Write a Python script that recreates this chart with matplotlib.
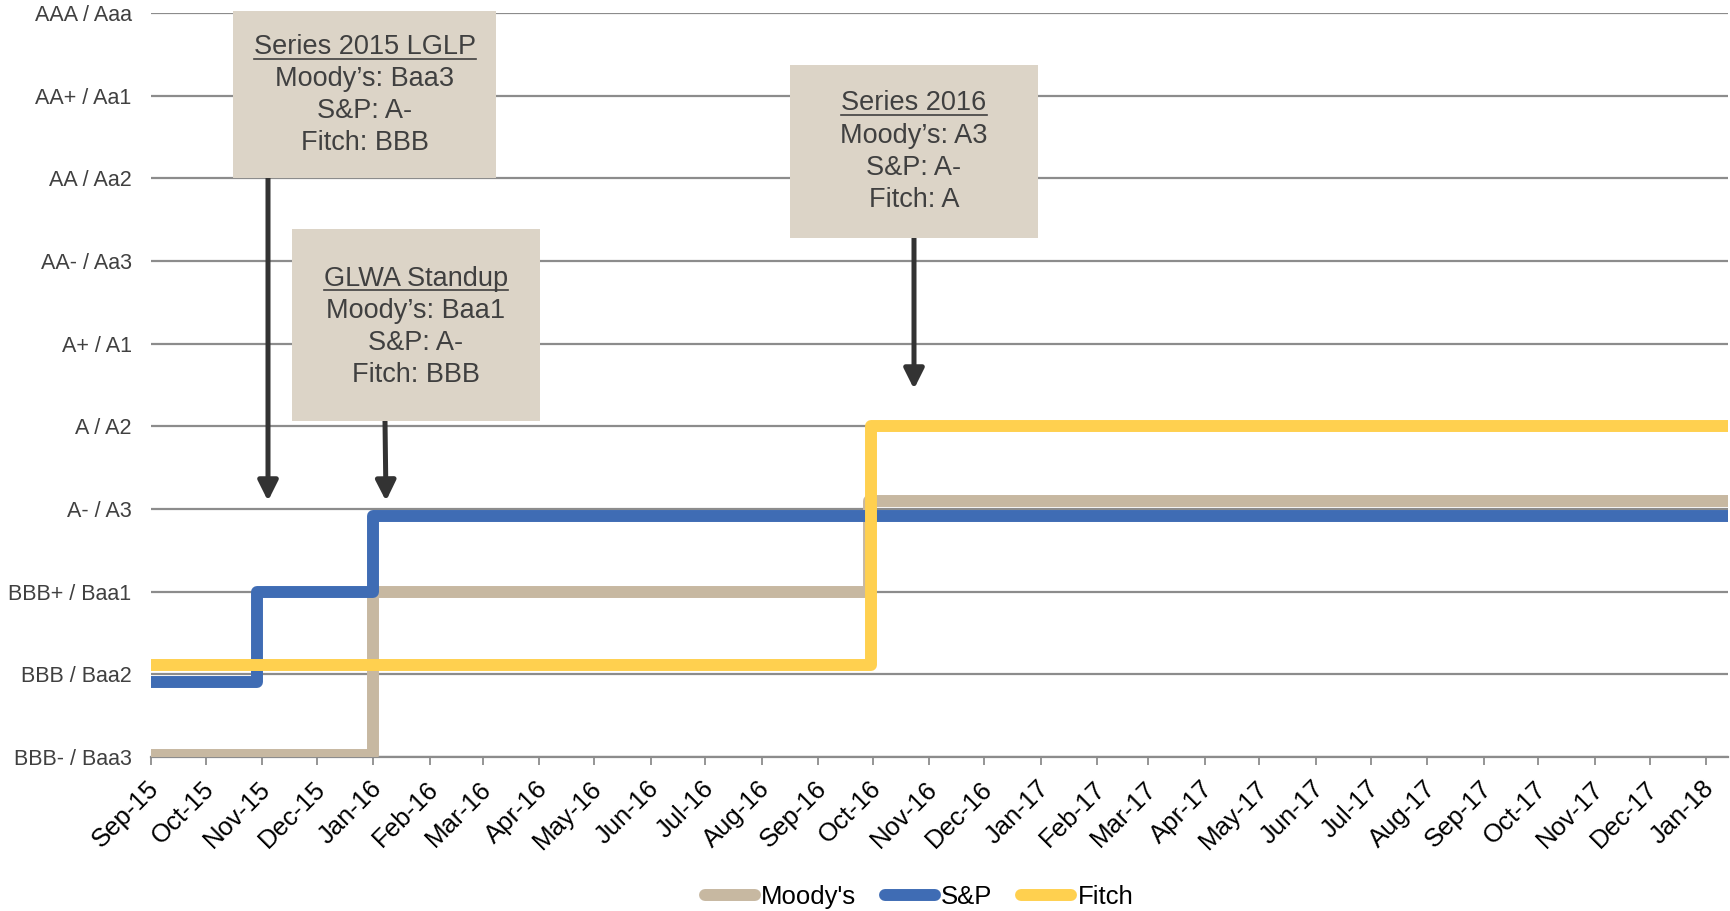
import matplotlib.pyplot as plt
import matplotlib.dates as mdates
import matplotlib.transforms as mtransforms
from matplotlib.patches import Rectangle
from matplotlib.lines import Line2D
import pandas as pd

plt.rcParams['font.family'] = ['Liberation Sans', 'DejaVu Sans']

# niveles de calificacion (eje y), 0 = BBB- / Baa3
niveles = ['BBB- / Baa3', 'BBB / Baa2', 'BBB+ / Baa1', 'A- / A3', 'A / A2',
           'A+ / A1', 'AA- / Aa3', 'AA / Aa2', 'AA+ / Aa1', 'AAA / Aaa']

# fechas de cambio y nivel de cada agencia
fin = '2018-01-13'
moodys_fechas = ['2015-09-01', '2016-01-01', '2016-09-29', fin]
moodys_valores = [0.02, 2.0, 3.1, 3.1]
sp_fechas = ['2015-09-01', '2015-10-29', '2016-01-01', fin]
sp_valores = [0.91, 2.0, 2.92, 2.92]
fitch_fechas = ['2015-09-01', '2016-09-30', fin]
fitch_valores = [1.11, 4.0, 4.0]

series = ["Moody's", 'S&P', 'Fitch']
colores = ['#c7b8a1', '#3f6cb4', '#ffd04f']

# cuadros de texto
caja1 = ['Series 2015 LGLP', 'Moody\u2019s: Baa3', 'S&P: A-', 'Fitch: BBB']
caja2 = ['GLWA Standup', 'Moody\u2019s: Baa1', 'S&P: A-', 'Fitch: BBB']
caja3 = ['Series 2016', 'Moody\u2019s: A3', 'S&P: A-', 'Fitch: A']

W, H = 1730, 911
fig = plt.figure(figsize=(W / 100, H / 100), dpi=100)
ax = fig.add_axes([151 / W, 1 - 757 / H, (1728 - 151) / W, (757 - 13) / H])


def fx(x):
    return x / W


def fy(y):
    return 1 - y / H


datos = [(moodys_fechas, moodys_valores), (sp_fechas, sp_valores),
         (fitch_fechas, fitch_valores)]
for (f, v), nombre, c in zip(datos, series, colores):
    ax.plot(pd.to_datetime(f), v, drawstyle='steps-post', color=c, lw=8.6,
            solid_joinstyle='round', solid_capstyle='round', label=nombre, zorder=3)

ax.set_ylim(0, 9)
ax.set_yticks(range(len(niveles)))
ax.set_yticklabels(niveles)
ax.set_xlim(pd.Timestamp('2015-09-01'), pd.Timestamp(fin))
ax.xaxis.set_major_locator(mdates.MonthLocator())
ax.xaxis.set_major_formatter(mdates.DateFormatter('%b-%y'))

ax.yaxis.grid(True, color='#8c8c8c', lw=1.6)
ax.set_axisbelow(True)
for s in ['top', 'right', 'left']:
    ax.spines[s].set_visible(False)
ax.spines['bottom'].set_color('#8c8c8c')
ax.spines['bottom'].set_linewidth(1.6)
ax.tick_params(axis='y', length=0, pad=14, labelsize=15.5, labelcolor='#404040')
ax.tick_params(axis='x', length=6, width=1.3, color='#8c8c8c', pad=8,
               labelsize=18.5, labelcolor='black')
desp = mtransforms.ScaledTranslation(-4 / 100, 0, fig.dpi_scale_trans)
for lab in ax.get_xticklabels():
    lab.set_rotation(45)
    lab.set_ha('right')
    lab.set_rotation_mode('anchor')
    lab.set_transform(lab.get_transform() + desp)

# cuadros y flechas
cajas = [(caja1, 233, 11, 496, 178, [47, 79, 111, 143]),
         (caja2, 292, 229, 540, 421, [279, 311, 343, 375]),
         (caja3, 790, 65, 1038, 238, [103, 136, 168, 200])]
titulos = []
for lineas, x0, y0, x1, y1, ys in cajas:
    fig.add_artist(Rectangle((fx(x0), fy(y1)), fx(x1 - x0), (y1 - y0) / H,
                             transform=fig.transFigure, facecolor='#dcd4c7',
                             edgecolor='none', zorder=5))
    xc = (x0 + x1) / 2
    for i, (t, y) in enumerate(zip(lineas, ys)):
        txt = fig.text(fx(xc), fy(y), t, ha='center', va='center', fontsize=19.5,
                       color='#404040', zorder=6)
        if i == 0:
            titulos.append(txt)

flechas = [(268, 178, 268, 501), (385, 421, 386, 501), (914, 238, 914, 389)]
for xa, ya, xb, yb in flechas:
    ax.annotate('', xy=(fx(xb), fy(yb)), xytext=(fx(xa), fy(ya)),
                xycoords='figure fraction', textcoords='figure fraction',
                arrowprops=dict(arrowstyle='-|>,head_length=1.0,head_width=0.5',
                                lw=3.6, color='#333333', mutation_scale=12,
                                shrinkA=0, shrinkB=0), zorder=7)

ax.legend(loc='center', bbox_to_anchor=(fx(919), fy(897)),
          bbox_transform=fig.transFigure, ncol=3, frameon=False, fontsize=18.5,
          handlelength=1.95, handletextpad=0.25, columnspacing=1.1)

# subrayado de los titulos
fig.canvas.draw()
r = fig.canvas.get_renderer()
for t in titulos:
    bb = t.get_window_extent(r)
    yl = (bb.y0 + 1.5) / H
    fig.add_artist(Line2D([bb.x0 / W, bb.x1 / W], [yl, yl], transform=fig.transFigure,
                          color='#404040', lw=1.2, zorder=6))

plt.savefig('out.png', dpi=100)
